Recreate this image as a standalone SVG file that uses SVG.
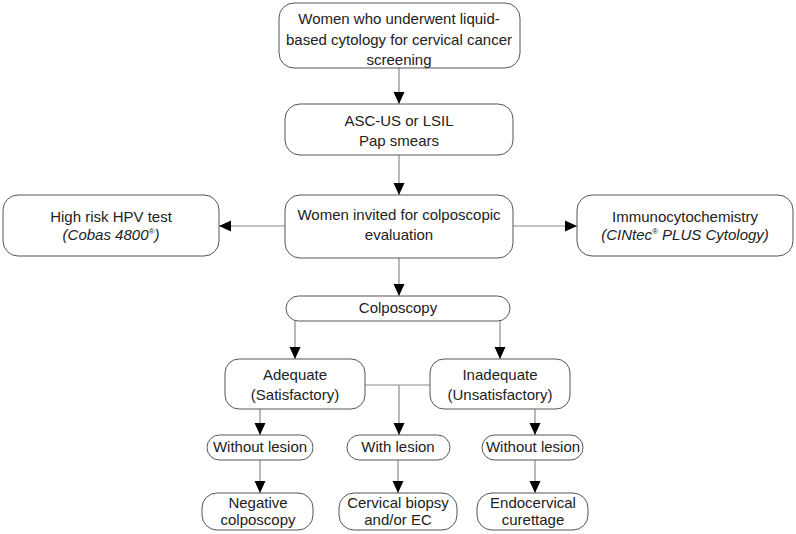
<svg xmlns="http://www.w3.org/2000/svg" width="796" height="534" viewBox="0 0 796 534">
<style>
.box{fill:#fff;stroke:#555;stroke-width:1}
.ln{fill:none;stroke:#8a8a8a;stroke-width:1.2}
text{font-family:"Liberation Sans",Arial,sans-serif;font-size:15px;fill:#222;text-anchor:middle}
.it{font-style:italic}
</style>
<defs>
<marker id="ahb" viewBox="0 0 12 12" refX="12" refY="6" markerWidth="12" markerHeight="12" markerUnits="userSpaceOnUse" orient="auto">
<path d="M0,0.5 L12,6 L0,11.5 Z" fill="#000"/>
</marker>
</defs>
<rect width="796" height="534" fill="#fff"/>
<g id="connectors">
<line class="ln" x1="399" y1="68" x2="399" y2="104" marker-end="url(#ahb)"/>
<line class="ln" x1="399" y1="155" x2="399" y2="195" marker-end="url(#ahb)"/>
<line class="ln" x1="285" y1="226" x2="219" y2="226" marker-end="url(#ahb)"/>
<line class="ln" x1="513" y1="226" x2="577" y2="226" marker-end="url(#ahb)"/>
<line class="ln" x1="399" y1="258" x2="399" y2="296" marker-end="url(#ahb)"/>
<line class="ln" x1="295" y1="321" x2="295" y2="359" marker-end="url(#ahb)"/>
<line class="ln" x1="500" y1="321" x2="500" y2="359" marker-end="url(#ahb)"/>
<polyline class="ln" points="365,385 430,385"/>
<line class="ln" x1="399" y1="385" x2="399" y2="435" marker-end="url(#ahb)"/>
<line class="ln" x1="260" y1="409" x2="260" y2="435" marker-end="url(#ahb)"/>
<line class="ln" x1="535" y1="409" x2="535" y2="435" marker-end="url(#ahb)"/>
<line class="ln" x1="260" y1="460" x2="260" y2="493" marker-end="url(#ahb)"/>
<line class="ln" x1="398" y1="460" x2="398" y2="493" marker-end="url(#ahb)"/>
<line class="ln" x1="535" y1="460" x2="535" y2="493" marker-end="url(#ahb)"/>
</g>
<g id="n-women">
<rect class="box" x="279" y="3" width="241" height="65" rx="15"/>
<text x="399" y="24">Women who underwent liquid-</text>
<text x="399" y="45">based cytology for cervical cancer</text>
<text x="399" y="65">screening</text>
</g>
<g id="n-ascus">
<rect class="box" x="285" y="104" width="228" height="51" rx="15"/>
<text x="399" y="126">ASC-US or LSIL</text>
<text x="399" y="146">Pap smears</text>
</g>
<g id="n-invited">
<rect class="box" x="285" y="195" width="228" height="63" rx="15"/>
<text x="399" y="220">Women invited for colposcopic</text>
<text x="399" y="240">evaluation</text>
</g>
<g id="n-hpv">
<rect class="box" x="3" y="195" width="216" height="61" rx="15"/>
<text x="111" y="222">High risk HPV test</text>
<text x="111" y="240" class="it">(Cobas 4800<tspan font-size="8" dy="-6">®</tspan><tspan dy="6">)</tspan></text>
</g>
<g id="n-icc">
<rect class="box" x="577" y="195" width="216" height="61" rx="15"/>
<text x="685" y="222">Immunocytochemistry</text>
<text x="685" y="240" class="it">(CINtec<tspan font-size="8" dy="-6">®</tspan><tspan dy="6"> PLUS Cytology)</tspan></text>
</g>
<g id="n-colpo">
<rect class="box" x="286" y="296" width="224" height="25" rx="12.5"/>
<text x="398" y="313">Colposcopy</text>
</g>
<g id="n-adequate">
<rect class="box" x="225" y="359" width="140" height="50" rx="14"/>
<text x="295" y="380">Adequate</text>
<text x="295" y="400">(Satisfactory)</text>
</g>
<g id="n-inadequate">
<rect class="box" x="430" y="359" width="140" height="50" rx="14"/>
<text x="500" y="380">Inadequate</text>
<text x="500" y="400">(Unsatisfactory)</text>
</g>
<g id="n-without1">
<rect class="box" x="207" y="435" width="106" height="25" rx="12.5"/>
<text x="260" y="452">Without lesion</text>
</g>
<g id="n-with">
<rect class="box" x="347" y="435" width="103" height="25" rx="12.5"/>
<text x="398" y="452">With lesion</text>
</g>
<g id="n-without2">
<rect class="box" x="482" y="435" width="101" height="25" rx="12.5"/>
<text x="533" y="452">Without lesion</text>
</g>
<g id="n-negative">
<rect class="box" x="202" y="493" width="111" height="37" rx="15"/>
<text x="258" y="508">Negative</text>
<text x="258" y="525">colposcopy</text>
</g>
<g id="n-biopsy">
<rect class="box" x="339" y="493" width="118" height="37" rx="15"/>
<text x="398" y="508">Cervical biopsy</text>
<text x="398" y="525">and/or EC</text>
</g>
<g id="n-ecc">
<rect class="box" x="477" y="493" width="111" height="37" rx="15"/>
<text x="533" y="508">Endocervical</text>
<text x="533" y="525">curettage</text>
</g>
</svg>
